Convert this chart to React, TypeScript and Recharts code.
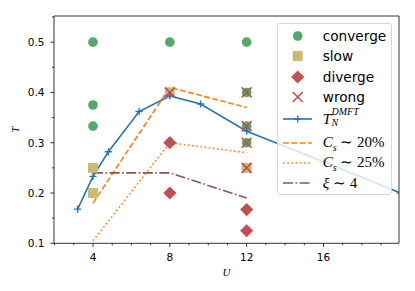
import React from 'react'
import { ComposedChart, Line, Scatter, XAxis, YAxis, ReferenceArea } from 'recharts'

// phase points from the DMFT runs
const convergeU = [4, 4, 4, 8, 12, 12, 12, 12]
const convergeT = [0.5, 0.375, 0.333, 0.5, 0.5, 0.4, 0.333, 0.3]
const slowU = [4, 4, 8, 12]
const slowT = [0.25, 0.2, 0.4, 0.25]
const divergeU = [8, 8, 12, 12]
const divergeT = [0.3, 0.2, 0.167, 0.125]
const wrongU = [8, 12, 12, 12, 12]
const wrongT = [0.4, 0.4, 0.333, 0.3, 0.25]

// curves
const tnU = [3.2, 4, 4.8, 6.4, 8, 9.6, 12, 16, 20]
const tnT = [0.168, 0.233, 0.282, 0.362, 0.393, 0.377, 0.323, 0.262, 0.2]
const cs20U = [4, 8, 12]
const cs20T = [0.18, 0.41, 0.37]
const cs25U = [4, 8, 12]
const cs25T = [0.105, 0.3, 0.28]
const xiU = [4, 8, 12]
const xiT = [0.24, 0.24, 0.19]

const xTicks = [2, 3, 4, 5, 6, 7, 8, 9, 10, 11, 12, 13, 14, 15, 16, 17, 18, 19]
const xMajor = [4, 8, 12, 16]
const yTicks = [0.1, 0.15, 0.2, 0.25, 0.3, 0.35, 0.4, 0.45, 0.5, 0.55]

const X_MIN = 1.97
const X_MAX = 19.93
const Y_MIN = 0.1
const Y_MAX = 0.552

const GREEN = '#55a868'
const TAN = '#ccb974'
const RED = '#c44e52'
const BLUE = '#1f77b4'
const ORANGE = '#ff7f0e'
const BROWN = '#8c564b'

const toPoints = (us: number[], ts: number[]) => us.map((u, i) => ({ u, t: ts[i] }))

const tickFont = { fontFamily: 'DejaVu Sans', fontSize: 10.5, fill: '#000' }
const mathFont = "'Liberation Serif', serif"

function XTick(props: any) {
  const { x, y, payload } = props
  const major = xMajor.includes(payload.value)
  return (
    <g>
      <line x1={x} x2={x} y1={y} y2={y + (major ? 3.6 : 2)} stroke="#000" strokeWidth={0.8} />
      {major && (
        <text x={x} y={y + 17.2} textAnchor="middle" {...tickFont}>
          {payload.value}
        </text>
      )}
    </g>
  )
}

function YTick(props: any) {
  const { x, y, payload } = props
  const v = payload.value
  const major = Math.abs(v * 10 - Math.round(v * 10)) < 1e-6
  return (
    <g>
      <line x1={x} x2={x - (major ? 3.6 : 2)} y1={y} y2={y} stroke="#000" strokeWidth={0.8} />
      {major && (
        <text x={x - 9.5} y={y + 3.8} textAnchor="end" {...tickFont}>
          {v.toFixed(1)}
        </text>
      )}
    </g>
  )
}

const circle = (p: any) => <circle cx={p.cx} cy={p.cy} r={4.8} fill={GREEN} />
const square = (p: any) => <rect x={p.cx - 5} y={p.cy - 5} width={10} height={10} fill={TAN} />
const diamond = (p: any) => (
  <path d={`M${p.cx},${p.cy - 6.6}L${p.cx + 6.6},${p.cy}L${p.cx},${p.cy + 6.6}L${p.cx - 6.6},${p.cy}Z`} fill={RED} />
)
const cross = (p: any) => (
  <path
    d={`M${p.cx - 5},${p.cy - 5}L${p.cx + 5},${p.cy + 5}M${p.cx - 5},${p.cy + 5}L${p.cx + 5},${p.cy - 5}`}
    stroke={RED}
    strokeWidth={1.6}
    fill="none"
  />
)
const plus = (p: any) => (
  <path
    key={p.index}
    d={`M${p.cx - 3.6},${p.cy}L${p.cx + 3.6},${p.cy}M${p.cx},${p.cy - 3.6}L${p.cx},${p.cy + 3.6}`}
    stroke={BLUE}
    strokeWidth={1.4}
  />
)

function LegendRow({ top, marker, children }: { top: number; marker: React.ReactNode; children: React.ReactNode }) {
  return (
    <div style={{ position: 'absolute', left: 0, top: top - 11, height: 22, width: '100%', display: 'flex', alignItems: 'center' }}>
      <svg width={40} height={22} style={{ flex: 'none' }}>
        {marker}
      </svg>
      <div style={{ marginLeft: 4.7, whiteSpace: 'nowrap' }}>{children}</div>
    </div>
  )
}

const lineMarker = (color: string, dash?: string) => (
  <line x1={5} x2={34} y1={11} y2={11} stroke={color} strokeWidth={1.6} strokeDasharray={dash} />
)

function ChartLegend() {
  const m = { fontFamily: mathFont, fontStyle: 'italic' as const, fontSize: 15 }
  return (
    <div
      style={{
        position: 'absolute',
        left: 277,
        top: 23,
        width: 115,
        height: 172,
        boxSizing: 'border-box',
        background: 'rgba(255,255,255,0.8)',
        border: '1px solid #d6d6d6',
        borderRadius: 3,
        fontFamily: 'DejaVu Sans',
        fontSize: 13.7,
        color: '#000',
      }}
    >
      <LegendRow top={11.7} marker={<circle cx={19.7} cy={11} r={4.8} fill={GREEN} />}>converge</LegendRow>
      <LegendRow top={31.7} marker={<rect x={14.7} y={6} width={10} height={10} fill={TAN} />}>slow</LegendRow>
      <LegendRow top={52.7} marker={<path d="M19.7,4.4L26.3,11L19.7,17.6L13.1,11Z" fill={RED} />}>diverge</LegendRow>
      <LegendRow top={73.3} marker={<path d="M14.7,6L24.7,16M14.7,16L24.7,6" stroke={RED} strokeWidth={1.6} />}>wrong</LegendRow>
      <LegendRow
        top={95}
        marker={
          <g>
            {lineMarker(BLUE)}
            <path d="M16.1,11L23.3,11M19.7,7.4L19.7,14.6" stroke={BLUE} strokeWidth={1.4} />
          </g>
        }
      >
        <span style={{ display: 'inline-flex', alignItems: 'center' }}>
          <span style={m}>T</span>
          <span style={{ display: 'inline-flex', flexDirection: 'column', fontFamily: mathFont, fontStyle: 'italic', fontSize: 10, lineHeight: '9px', marginLeft: 0.5 }}>
            <span style={{ marginTop: -4 }}>DMFT</span>
            <span style={{ marginTop: 2 }}>N</span>
          </span>
        </span>
      </LegendRow>
      <LegendRow top={118.7} marker={lineMarker(ORANGE, '5.8 2.5')}>
        <span style={m}>C</span>
        <sub style={{ ...m, fontSize: 10 }}>s</sub>
        <span style={{ fontFamily: mathFont, fontSize: 15 }}> ∼ 20%</span>
      </LegendRow>
      <LegendRow top={138.7} marker={lineMarker(ORANGE, '1.6 2.6')}>
        <span style={m}>C</span>
        <sub style={{ ...m, fontSize: 10 }}>s</sub>
        <span style={{ fontFamily: mathFont, fontSize: 15 }}> ∼ 25%</span>
      </LegendRow>
      <LegendRow top={158.7} marker={lineMarker(BROWN, '10 2.5 1.6 2.5')}>
        <span style={m}>ξ</span>
        <span style={{ fontFamily: mathFont, fontSize: 15 }}> ∼ 4</span>
      </LegendRow>
    </div>
  )
}

export default function App() {
  return (
    <div style={{ position: 'fixed', left: 0, top: 0, width: 415, height: 291, background: '#fff' }}>
      <ComposedChart width={415} height={291} margin={{ top: 16, right: 16, bottom: 17.7, left: 14 }}>
        <XAxis
          dataKey="u"
          type="number"
          domain={[X_MIN, X_MAX]}
          allowDataOverflow
          ticks={xTicks}
          interval={0}
          tick={<XTick />}
          tickLine={false}
          tickSize={0}
          tickMargin={0}
          axisLine={false}
          height={30}
          label={{
            content: (p: any) => (
              <text
                x={p.viewBox.x + p.viewBox.width / 2}
                y={p.viewBox.y + 32.5}
                textAnchor="middle"
                fontFamily={mathFont}
                fontStyle="italic"
                fontSize={11}
                fill="#000"
              >
                U
              </text>
            ),
          }}
        />
        <YAxis
          type="number"
          domain={[Y_MIN, Y_MAX]}
          allowDataOverflow
          ticks={yTicks}
          interval={0}
          tick={<YTick />}
          tickLine={false}
          tickSize={0}
          tickMargin={0}
          axisLine={false}
          width={40}
          label={{
            content: (p: any) => {
              const cx = p.viewBox.x + 5.5
              const cy = p.viewBox.y + p.viewBox.height / 2
              return (
                <text
                  x={cx}
                  y={cy}
                  transform={`rotate(-90 ${cx} ${cy})`}
                  textAnchor="middle"
                  fontFamily={mathFont}
                  fontStyle="italic"
                  fontSize={11}
                  fill="#000"
                >
                  T
                </text>
              )
            },
          }}
        />
        <Scatter data={toPoints(convergeU, convergeT)} dataKey="t" shape={circle} isAnimationActive={false} />
        <Scatter data={toPoints(slowU, slowT)} dataKey="t" shape={square} isAnimationActive={false} />
        <Scatter data={toPoints(divergeU, divergeT)} dataKey="t" shape={diamond} isAnimationActive={false} />
        <Scatter data={toPoints(wrongU, wrongT)} dataKey="t" shape={cross} isAnimationActive={false} />
        <Line data={toPoints(tnU, tnT)} dataKey="t" type="linear" stroke={BLUE} strokeWidth={1.6} dot={plus} activeDot={false} isAnimationActive={false} />
        <Line data={toPoints(cs20U, cs20T)} dataKey="t" type="linear" stroke={ORANGE} strokeWidth={1.6} strokeDasharray="5.8 2.5" dot={false} activeDot={false} isAnimationActive={false} />
        <Line data={toPoints(cs25U, cs25T)} dataKey="t" type="linear" stroke={ORANGE} strokeWidth={1.6} strokeDasharray="1.6 2.6" dot={false} activeDot={false} isAnimationActive={false} />
        <Line data={toPoints(xiU, xiT)} dataKey="t" type="linear" stroke={BROWN} strokeWidth={1.6} strokeDasharray="10 2.5 1.6 2.5" dot={false} activeDot={false} isAnimationActive={false} />
        <ReferenceArea x1={X_MIN} x2={X_MAX} y1={Y_MIN} y2={Y_MAX} fill="none" stroke="#000" strokeWidth={0.8} ifOverflow="visible" />
      </ComposedChart>
      <ChartLegend />
    </div>
  )
}
